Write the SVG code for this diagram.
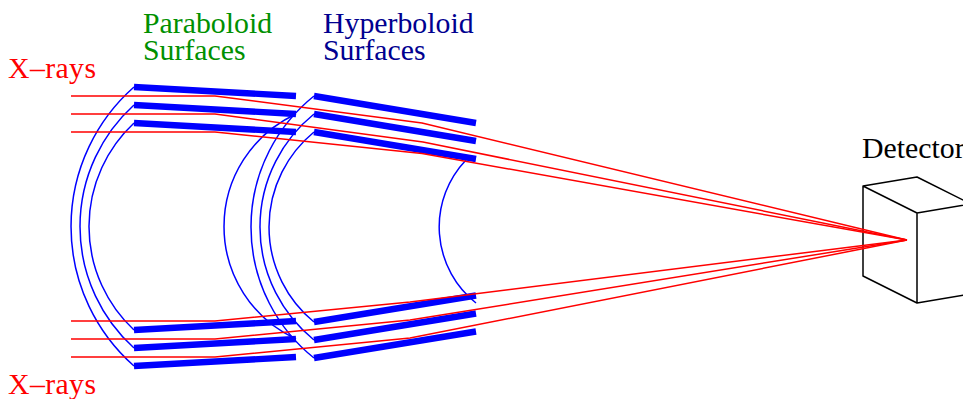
<svg xmlns="http://www.w3.org/2000/svg" width="963" height="399" viewBox="0 0 963 399">
<style>
text{font-family:"Liberation Serif","Times New Roman",serif;font-size:29.8px;font-kerning:none}
.m{stroke:#0000ff;stroke-width:6.4;fill:none}
.c{stroke:#0000ff;stroke-width:1.5;fill:none}
.r{stroke:#ff0000;stroke-width:1.5;fill:none;stroke-linejoin:miter}
.k{stroke:#000;stroke-width:1.5;fill:none;stroke-linejoin:round}
</style>
<rect width="963" height="399" fill="#fff"/>
<g id="labels">
<text x="143" y="33" fill="#009000">Paraboloid</text>
<text x="143" y="60" fill="#009000">Surfaces</text>
<text x="323" y="33" fill="#000090">Hyperboloid</text>
<text x="323" y="60" fill="#000090">Surfaces</text>
<text x="8" y="78" fill="#ff0000" textLength="88" lengthAdjust="spacing">X–rays</text>
<text x="8" y="393.5" fill="#ff0000" textLength="88" lengthAdjust="spacing">X–rays</text>
</g>
<g id="detector">
<text x="862" y="158" fill="#000">Detector</text>
<path class="k" d="M863 186L917 177L971 204L917 213ZM863 186V276L917 303V213M917 213L971 204M917 303L971 294"/>
</g>
<g id="connectors">
<path class="c" d="M134 87A186 186 0 0 0 134 366"/>
<path class="c" d="M134 105A163.7 163.7 0 0 0 134 348"/>
<path class="c" d="M134 123A141.5 141.5 0 0 0 134 330"/>
<path class="c" d="M296 114A123.9 123.9 0 0 0 296 339"/>
<path class="c" d="M314 96A167.7 167.7 0 0 0 314 358"/>
<path class="c" d="M314 114A145.2 145.2 0 0 0 314 340"/>
<path class="c" d="M314 132A122.8 122.8 0 0 0 314 322"/>
<path class="c" d="M466 160A97 97 0 0 0 476 303"/>
</g>
<g id="paraboloid-mirrors">
<path class="m" d="M134 87L296 96M134 105L296 114M134 123L296 132M134 330L296 321M134 348L296 339M134 366L296 357"/>
</g>
<g id="hyperboloid-mirrors">
<path class="m" d="M314 96L476 123M314 114L476 141M314 132L476 159M314 322L476 295.5M314 340L476 313.5M314 358L476 331.5"/>
</g>
<g id="rays">
<path class="r" d="M71 96H215L422 123L907 240"/>
<path class="r" d="M71 114H215L423 142L907 240"/>
<path class="r" d="M71 132H215L422 153.5L907 240"/>
<path class="r" d="M71 321H215L410 302L907 240"/>
<path class="r" d="M71 339H215L410 320L907 240"/>
<path class="r" d="M71 357H215L410 338L907 240"/>
</g>
</svg>
